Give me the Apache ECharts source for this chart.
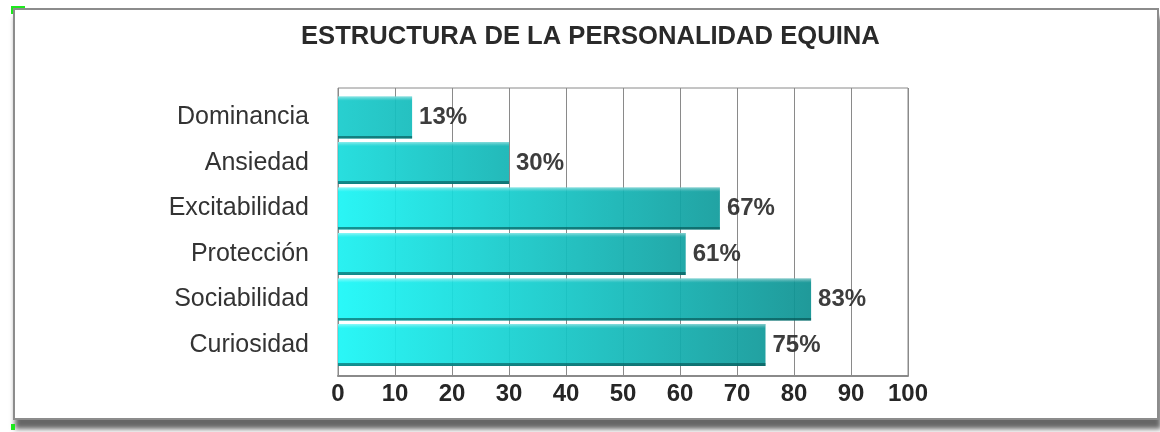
<!DOCTYPE html>
<html>
<head>
<meta charset="utf-8">
<title>Estructura de la personalidad equina</title>
<script src="https://cdn.jsdelivr.net/npm/echarts@6/dist/echarts.min.js"></script>
<style>
  html, body { margin: 0; padding: 0; background: #fff; }
  body { width: 1160px; height: 432px; position: relative; overflow: hidden; }
  .panel {
    position: absolute; left: 13px; top: 8px; width: 1142px; height: 408px;
    border: 2px solid #8c8c8c; background: #fff;
    box-shadow: 2px 9px 5px rgba(0, 0, 0, 0.6);
  }
  .mark { position: absolute; left: 11px; width: 12px; height: 6px; border-left: 2px solid #1ee81e; }
  .mark.top { top: 6px; border-top: 2px solid #1ee81e; }
  .mark.bot { top: 424px; height: 6px; width: 4px; background: #1ee81e; border: 0; }
  #chart { position: absolute; left: 0; top: 0; width: 1160px; height: 432px; }
</style>
</head>
<body>
<div class="panel"></div>
<div class="mark top"></div>
<div class="mark bot"></div>
<div id="chart"></div>
<script>
const titleText = 'ESTRUCTURA DE LA PERSONALIDAD EQUINA'
const categories = ['Dominancia', 'Ansiedad', 'Excitabilidad', 'Protección', 'Sociabilidad', 'Curiosidad']
const values = [13, 30, 67, 61, 83, 75]
const axisTicks = [0, 10, 20, 30, 40, 50, 60, 70, 80, 90, 100]

// left / right colour of each bar's horizontal shading
const barShades = [
  ['#18cccc', '#15bcbc'],
  ['#18dcdc', '#13b4b4'],
  ['#1af4f4', '#119c9c'],
  ['#1af0f0', '#12a2a2'],
  ['#1af8f8', '#0f9292'],
  ['#1af6f6', '#119a9a'],
]

const font = '"Liberation Sans", Arial, sans-serif'
const gridPos = { left: 338, right: 252 }

const chart = echarts.init(document.getElementById('chart'), null, { renderer: 'canvas' })

chart.setOption({
  backgroundColor: 'transparent',
  animation: false,
  title: {
    text: titleText,
    left: 296,
    top: 19,
    textStyle: { fontFamily: font, fontSize: 25.6, fontWeight: 'bold', color: '#2a2a2a' },
  },
  grid: [
    // frame, vertical lines and value labels
    { ...gridPos, top: 88, bottom: 56, show: true, borderColor: '#8a8a8a', borderWidth: 1, backgroundColor: 'transparent' },
    // bars
    { ...gridPos, top: 94.75, bottom: 64.25 },
  ],
  xAxis: [
    {
      gridIndex: 0,
      type: 'value',
      min: axisTicks[0],
      max: axisTicks[axisTicks.length - 1],
      interval: axisTicks[1] - axisTicks[0],
      axisLine: { show: true, lineStyle: { color: '#8a8a8a', width: 2 } },
      axisTick: { show: false },
      splitLine: { show: true, lineStyle: { color: '#8a8a8a', width: 1 } },
      axisLabel: {
        margin: 6,
        fontFamily: font, fontSize: 24, fontWeight: 'bold', color: '#262626',
      },
    },
    {
      gridIndex: 1,
      type: 'value',
      min: axisTicks[0],
      max: axisTicks[axisTicks.length - 1],
      show: false,
    },
  ],
  yAxis: [
    {
      gridIndex: 0,
      type: 'value',
      show: false,
      splitLine: { show: false },
    },
    {
      gridIndex: 1,
      type: 'category',
      data: categories,
      inverse: true,
      axisLine: { show: false },
      axisTick: { show: false },
      axisLabel: {
        margin: 29,
        fontFamily: font, fontSize: 25, color: '#333',
      },
    },
  ],
  series: [
    {
      type: 'bar',
      xAxisIndex: 1,
      yAxisIndex: 1,
      barWidth: 42,
      data: values.map((v, i) => ({
        value: v,
        itemStyle: {
          color: new echarts.graphic.LinearGradient(0, 0, 1, 0, [
            { offset: 0, color: barShades[i][0] },
            { offset: 1, color: barShades[i][1] },
          ]),
        },
      })),
      itemStyle: { opacity: 0.93 },
      label: {
        show: true,
        position: 'right',
        distance: 7,
        formatter: '{c}%',
        fontFamily: font, fontSize: 24, fontWeight: 'bold', color: '#2e2e2e',
      },
    },
    {
      // top highlight and dark lower edge over each bar
      type: 'bar',
      xAxisIndex: 1,
      yAxisIndex: 1,
      barWidth: 42,
      barGap: '-100%',
      silent: true,
      data: values,
      itemStyle: {
        color: new echarts.graphic.LinearGradient(0, 0, 0, 1, [
          { offset: 0, color: 'rgba(255,255,255,0.45)' },
          { offset: 0.06, color: 'rgba(255,255,255,0.15)' },
          { offset: 0.1, color: 'rgba(255,255,255,0)' },
          { offset: 0.93, color: 'rgba(0,60,60,0)' },
          { offset: 0.94, color: 'rgba(0,70,70,0.55)' },
          { offset: 1, color: 'rgba(0,70,70,0.6)' },
        ]),
      },
    },
  ],
})
</script>
</body>
</html>
